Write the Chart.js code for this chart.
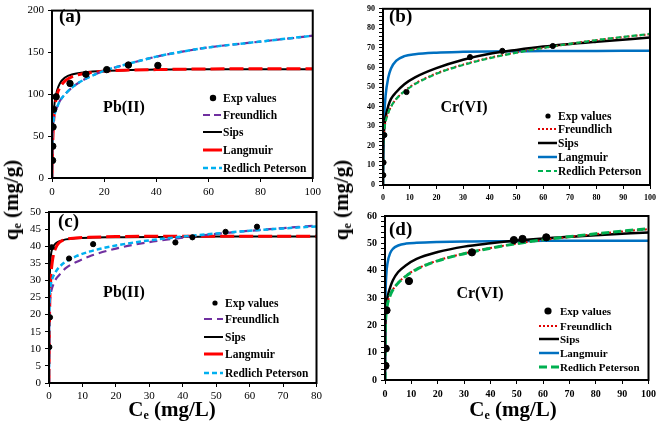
<!DOCTYPE html>
<html>
<head>
<meta charset="utf-8">
<script src="https://cdn.jsdelivr.net/npm/chart.js@4"></script>
<style>
  body { margin: 0; background: #fff; }
  #wrap { position: relative; width: 660px; height: 424px; background: #fff; overflow: hidden; }
  canvas { position: absolute; }
  .lbl { position: absolute; font-family: "Liberation Serif", "Times New Roman", serif; font-weight: bold; font-size: 21px; color: #000; white-space: nowrap; }
  .lbl sub { font-size: 12px; vertical-align: -3px; }
  .rot { transform: translate(-50%, -50%) rotate(-90deg); }
  .hor { transform: translate(-50%, -50%); }
</style>
</head>
<body>
<div id="wrap">
  <canvas id="chartA" width="305" height="200" style="left:20px;top:0px"></canvas>
  <canvas id="chartB" width="310" height="200" style="left:350px;top:0px"></canvas>
  <canvas id="chartC" width="305" height="200" style="left:20px;top:200px"></canvas>
  <canvas id="chartD" width="310" height="195" style="left:350px;top:205px"></canvas>
  <div class="lbl rot" style="left:12px;top:200px">q<sub>e</sub> (mg/g)</div>
  <div class="lbl rot" style="left:342px;top:200px">q<sub>e</sub> (mg/g)</div>
  <div class="lbl hor" style="left:172px;top:410px">C<sub>e</sub> (mg/L)</div>
  <div class="lbl hor" style="left:513px;top:410px">C<sub>e</sub> (mg/L)</div>
</div>
<script>
// x grids the fitted curves were read at
const gridX100 = [0, 0.05, 0.2, 0.5, 1, 2, 3, 5, 8, 12, 20, 30, 40, 50, 60, 80, 100];
const gridX80 = [0, 0.05, 0.2, 0.5, 1, 2, 3, 5, 8, 12, 20, 30, 40, 50, 60, 70, 80];

// (a) Pb(II)
const aExpX = [0.2, 0.3, 0.4, 0.6, 1.6, 6.9, 13, 21, 29.3, 40.6];
const aExpY = [21, 38, 61, 82, 97, 113, 124, 129.5, 135, 134.5];
const aFreundlich = [0, 44, 56, 67, 76, 85, 92, 100, 109, 117, 128, 137, 145, 151, 156, 163, 170];
const aSips = [0, 15, 40, 70, 90, 105, 113, 120, 124, 126, 128, 129, 129.5, 130, 130, 130, 130];
const aLangmuir = [0, 10, 33, 60, 82, 100, 108, 116, 121.5, 124.5, 127.5, 129, 129.5, 130, 130.3, 130.5, 130.5];
const aRP = [0, 45, 57, 67, 76, 85, 92, 100, 109, 117, 128, 137, 145, 151, 156, 163, 170];

// (b) Cr(VI)
const bExpX = [0.1, 0.2, 0.5, 8.8, 32.6, 44.7, 63.6];
const bExpY = [5, 11.5, 25.5, 47.5, 65.3, 68.5, 71];
const bFreundlich = [0, 18.6, 24, 28.6, 32.6, 37, 40, 44, 48, 51.8, 57, 61.5, 65, 67.7, 70, 74, 77];
const bSips = [0, 15, 23, 30, 35, 40.5, 44, 47.5, 51.5, 55, 59.7, 64, 67, 69, 70.7, 73.2, 75.3];
const bLangmuir = [0, 8, 22, 36, 46, 55, 59.5, 63.5, 65.8, 66.8, 67.6, 68, 68.2, 68.3, 68.4, 68.5, 68.6];
const bRP = [0, 18, 24, 28.5, 32.5, 37, 40, 44, 47.8, 51.5, 56.8, 61.3, 64.8, 67.6, 70, 74, 77.2];

// (c) Pb(II)
const cExpX = [0.1, 0.3, 0.8, 6, 13.2, 37.8, 42.9, 52.8, 62.2];
const cExpY = [10.5, 19.2, 39.7, 36.4, 40.6, 41.1, 42.6, 44.2, 45.7];
const cFreundlich = [0, 19, 23.5, 26, 28, 30.3, 31.5, 33.6, 35.3, 37, 39.3, 41.2, 42.5, 43.6, 44.5, 45.3, 46];
const cSips = [0, 20, 30, 36.5, 39.3, 40.8, 41.4, 42, 42.3, 42.5, 42.6, 42.7, 42.7, 42.8, 42.8, 42.8, 42.8];
const cLangmuir = [0, 8, 22, 30, 35.5, 39.5, 41, 42, 42.4, 42.6, 42.8, 42.9, 42.9, 42.9, 42.9, 42.9, 42.9];
const cRP = [0, 15, 25, 28.5, 30.5, 32.5, 33.8, 35.5, 37, 38.4, 40.2, 41.7, 42.8, 43.7, 44.5, 45.2, 45.8];

// (d) Cr(VI)
const dExpX = [0.2, 0.3, 0.6, 9.1, 33, 48.9, 52.2, 61.2];
const dExpY = [5.2, 11.5, 25.5, 36.2, 46.7, 51.2, 51.6, 52.2];
const dFreundlich = [0, 18, 22.5, 25.6, 28.3, 31.3, 33.1, 35.6, 38.2, 40.6, 43.7, 46.3, 48.3, 49.9, 51.2, 53.4, 55.2];
const dSips = [0, 12, 22, 27, 30.5, 34, 36.5, 39.5, 42, 44.3, 46.8, 48.8, 50, 51, 51.8, 53, 54];
const dLangmuir = [0, 12, 30, 38.5, 43, 46.5, 48, 49.2, 49.9, 50.2, 50.5, 50.7, 50.8, 50.8, 50.9, 50.9, 50.9];
const dRP = [0, 14, 21, 25, 28, 31, 33, 35.5, 38, 40.5, 43.6, 46.2, 48.2, 49.9, 51.3, 53.5, 55.4];

const SERIF = '"Liberation Serif", "Times New Roman", serif';

function pairs(xs, ys) {
    return xs.map((x, i) => ({ x: x, y: ys[i] }));
}

function curve(label, xs, ys, color, width, dash, order, legendDash) {
    return {
        label: label,
        data: pairs(xs, ys),
        showLine: true,
        borderColor: color,
        backgroundColor: color,
        borderWidth: width,
        borderDash: dash,
        legendDash: legendDash || dash,
        pointRadius: 0,
        cubicInterpolationMode: 'monotone',
        fill: false,
        order: order
    };
}

function points(xs, ys, r) {
    return {
        label: 'Exp values',
        data: pairs(xs, ys),
        pointRadius: r,
        pointBackgroundColor: '#000',
        pointBorderColor: '#000',
        order: 0
    };
}

// frame around plot area, legend and the panel texts
const panelDecor = {
    id: 'panelDecor',
    afterDraw(chart) {
        const ctx = chart.ctx;
        const a = chart.chartArea;
        const o = chart.options.plugins.panelDecor;
        ctx.save();
        ctx.strokeStyle = '#000';
        ctx.lineWidth = 2;
        ctx.strokeRect(a.left, a.top, a.right - a.left, a.bottom - a.top);

        ctx.fillStyle = '#000';
        ctx.textBaseline = 'middle';
        ctx.font = 'bold 19px ' + SERIF;
        ctx.textAlign = 'left';
        ctx.fillText(o.tag, o.tagX, o.tagY);
        ctx.font = 'bold 16px ' + SERIF;
        ctx.textAlign = 'center';
        ctx.fillText(o.metal, o.metalX, o.metalY);

        const lg = o.legend;
        ctx.font = 'bold ' + lg.size + 'px ' + SERIF;
        ctx.textAlign = 'left';
        lg.order.forEach((name, i) => {
            const ds = chart.data.datasets.find(d => d.label === name);
            const y = lg.rows[i];
            if (name === 'Exp values') {
                ctx.beginPath();
                ctx.arc(lg.dotX, y, ds.pointRadius, 0, Math.PI * 2);
                ctx.fillStyle = '#000';
                ctx.fill();
            } else {
                ctx.beginPath();
                ctx.setLineDash(ds.legendDash);
                ctx.strokeStyle = ds.borderColor;
                ctx.lineWidth = ds.borderWidth;
                ctx.moveTo(lg.x1, y);
                ctx.lineTo(lg.x2, y);
                ctx.stroke();
                ctx.setLineDash([]);
            }
            ctx.fillStyle = '#000';
            ctx.fillText(name, lg.textX, y + 1);
        });
        ctx.restore();
    }
};

function axis(min, max, step, size, bold, fitKey, fitVal, labelEvery, pad) {
    return {
        type: 'linear',
        min: min,
        max: max,
        afterFit(scale) { scale[fitKey] = fitVal; },
        grid: { drawOnChartArea: false, drawTicks: true, tickLength: 4, color: '#000', lineWidth: 1 },
        border: { display: true, color: '#000', width: 2 },
        ticks: {
            stepSize: step,
            autoSkip: false,
            maxRotation: 0,
            padding: pad,
            color: '#000',
            font: { family: SERIF, size: size, weight: bold ? 'bold' : 'normal' },
            callback: function (v) {
                if (labelEvery && Math.round(v) % labelEvery !== 0) return '';
                return v;
            }
        }
    };
}

function makePanel(id, datasets, cfg) {
    return new Chart(document.getElementById(id), {
        type: 'scatter',
        data: { datasets: datasets },
        options: {
            responsive: false,
            animation: false,
            devicePixelRatio: 1,
            layout: { padding: { top: cfg.padTop, right: cfg.padRight, left: 0, bottom: 0 } },
            scales: {
                x: axis(0, cfg.xMax, cfg.xStep, cfg.tickSize, cfg.bold, 'height', cfg.xH, 0, cfg.xPad),
                y: axis(0, cfg.yMax, cfg.yStep, cfg.tickSize, cfg.bold, 'width', cfg.yW, cfg.yLabelEvery, 4)
            },
            plugins: {
                legend: { display: false },
                tooltip: { enabled: false },
                panelDecor: cfg.decor
            }
        },
        plugins: [panelDecor]
    });
}

const legendOrder = ['Exp values', 'Freundlich', 'Sips', 'Langmuir', 'Redlich Peterson'];

makePanel('chartA', [
    points(aExpX, aExpY, 3.2),
    curve('Redlich Peterson', gridX100, aRP, '#00B0F0', 2.5, [5, 3], 1),
    curve('Freundlich', gridX100, aFreundlich, '#7030A0', 2.2, [7, 4], 2),
    curve('Langmuir', gridX100, aLangmuir, '#FF0000', 3, [14, 5], 3, []),
    curve('Sips', gridX100, aSips, '#000000', 2, [], 4)
], {
    xMax: 100, xStep: 20, yMax: 200, yStep: 50, tickSize: 11, bold: false,
    xH: 22, yW: 32, padTop: 5, padRight: 9, xPad: 4, yLabelEvery: 0,
    decor: {
        tag: '(a)', tagX: 39, tagY: 17, metal: 'Pb(II)', metalX: 104, metalY: 108,
        legend: { order: legendOrder, rows: [98, 115, 132, 150, 168], x1: 183, x2: 202, dotX: 193, textX: 203, size: 11.5 }
    }
});

makePanel('chartB', [
    points(bExpX, bExpY, 2.6),
    curve('Redlich Peterson', gridX100, bRP, '#00B050', 2.2, [5, 3], 1),
    curve('Freundlich', gridX100, bFreundlich, '#E00000', 2, [2, 2], 2),
    curve('Sips', gridX100, bSips, '#000000', 2.5, [], 3),
    curve('Langmuir', gridX100, bLangmuir, '#0070C0', 2.5, [], 4)
], {
    xMax: 100, xStep: 10, yMax: 90, yStep: 2, tickSize: 8, bold: true,
    xH: 15, yW: 33, padTop: 4, padRight: 8, xPad: 4, yLabelEvery: 10,
    decor: {
        tag: '(b)', tagX: 39, tagY: 17, metal: 'Cr(VI)', metalX: 114, metalY: 108,
        legend: { order: legendOrder, rows: [116, 129, 143, 157, 171], x1: 188, x2: 207, dotX: 198, textX: 208, size: 11.5 }
    }
});

makePanel('chartC', [
    points(cExpX, cExpY, 2.6),
    curve('Redlich Peterson', gridX80, cRP, '#00B0F0', 2.5, [5, 3], 1),
    curve('Freundlich', gridX80, cFreundlich, '#7030A0', 2.2, [8, 5], 2),
    curve('Langmuir', gridX80, cLangmuir, '#FF0000', 3, [14, 5], 3, []),
    curve('Sips', gridX80, cSips, '#000000', 2, [], 4)
], {
    xMax: 80, xStep: 10, yMax: 50, yStep: 5, tickSize: 11, bold: false,
    xH: 17, yW: 29, padTop: 12, padRight: 7, xPad: 3, yLabelEvery: 0,
    decor: {
        tag: '(c)', tagX: 38, tagY: 22, metal: 'Pb(II)', metalX: 104, metalY: 93,
        legend: { order: legendOrder, rows: [103, 119, 137, 154, 173], x1: 184, x2: 203, dotX: 195, textX: 205, size: 11.5 }
    }
});

makePanel('chartD', [
    points(dExpX, dExpY, 3.6),
    curve('Freundlich', gridX100, dFreundlich, '#E00000', 2, [2, 2], 2),
    curve('Redlich Peterson', gridX100, dRP, '#00B050', 3, [8, 4], 1),
    curve('Sips', gridX100, dSips, '#000000', 2.5, [], 3),
    curve('Langmuir', gridX100, dLangmuir, '#0070C0', 2.5, [], 4)
], {
    xMax: 100, xStep: 10, yMax: 60, yStep: 2, tickSize: 10, bold: true,
    xH: 20, yW: 35, padTop: 11, padRight: 7, xPad: 4, yLabelEvery: 10,
    decor: {
        tag: '(d)', tagX: 39, tagY: 25, metal: 'Cr(VI)', metalX: 130, metalY: 89,
        legend: { order: legendOrder, rows: [106, 121, 134, 148, 162], x1: 189, x2: 209, dotX: 198, textX: 210, size: 11 }
    }
});
</script>
</body>
</html>
